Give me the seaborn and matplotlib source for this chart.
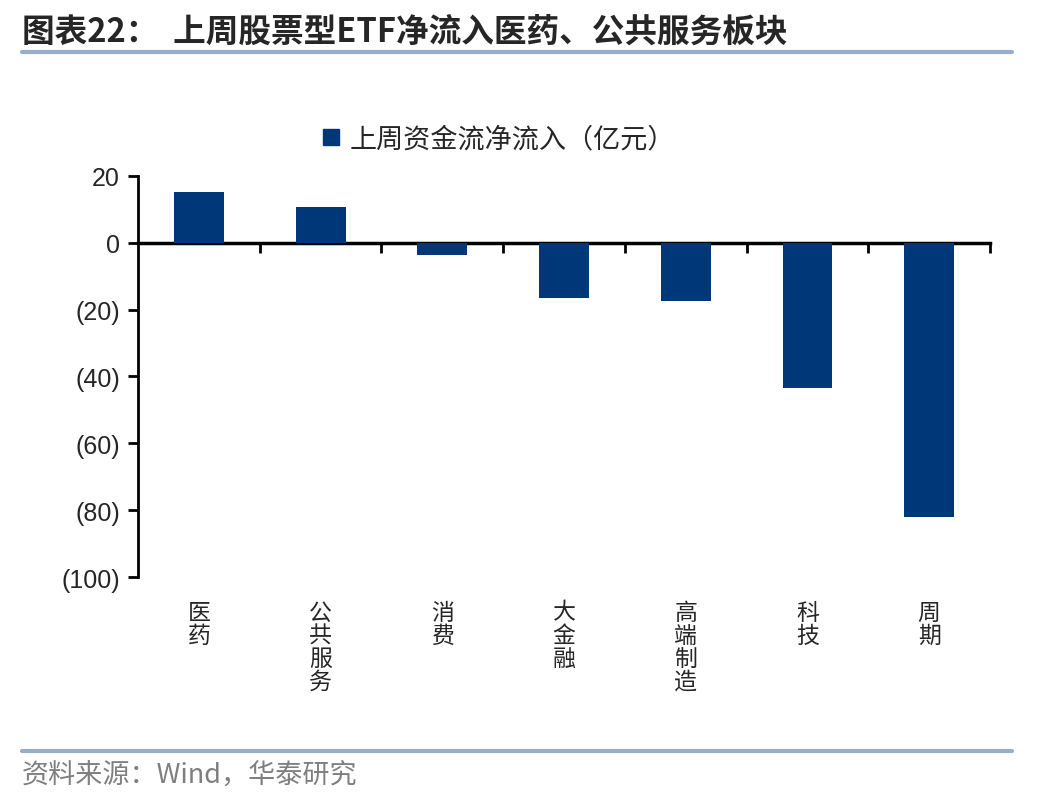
import numpy as np
import pandas as pd
import matplotlib
matplotlib.use("Agg")
import matplotlib.pyplot as plt
import seaborn as sns
from matplotlib.lines import Line2D

# data
categories = ["医药", "公共服务", "消费", "大金融", "高端制造", "科技", "周期"]
flows = [15.2, 10.6, -3.8, -16.4, -17.3, -43.4, -82.1]
yticks = [20, 0, -20, -40, -60, -80, -100]
series_name = "上周资金流净流入（亿元）"

sns.set_theme(style="white")
plt.rcParams["font.family"] = ["Noto Sans CJK SC", "DejaVu Sans"]

BAR = "#003778"
RULE = "#97AECA"

df = pd.DataFrame({"sector": categories, "flow": flows})

fig = plt.figure(figsize=(10.48, 8.04), dpi=100)
ax = fig.add_axes([0.1317, 0.281, 0.813, 0.499])

sns.barplot(data=df, x="sector", y="flow", color=BAR, width=0.41,
            saturation=1, linewidth=0, edgecolor=BAR, label=series_name, ax=ax)

ax.set_xlim(-0.5, len(categories) - 0.5)
ax.set_ylim(-100, 20)
ax.set_yticks(yticks)
ax.set_yticklabels([f"({-v})" if v < 0 else f"{v}" for v in yticks],
                   family=["Liberation Sans", "DejaVu Sans"], fontsize=18)
ax.tick_params(axis="y", direction="out", length=7, width=2, color="black", pad=6, left=True)

# vertical stacked category names at the bottom
ax.set_xticks(range(len(categories)))
ax.set_xticklabels(["\n".join(c) for c in categories], fontsize=16.5, va="top", linespacing=1.0)
ax.tick_params(axis="x", length=0, pad=17)
ax.set_xlabel("")
ax.set_ylabel("")

for s in ["top", "right", "bottom"]:
    ax.spines[s].set_visible(False)
ax.spines["left"].set_linewidth(2)
ax.spines["left"].set_color("black")

# zero line with boundary ticks
zero = ax.secondary_xaxis(0, transform=ax.transData)
zero.set_xticks(np.arange(0.5, len(categories), 1.0))
zero.set_xticklabels([])
zero.tick_params(direction="out", length=7, width=2, color="black")
zero.spines["bottom"].set_linewidth(2.5)
zero.spines["bottom"].set_color("black")

handle = Line2D([], [], marker="s", linestyle="none", markersize=12, color=BAR)
fig.legend([handle], [series_name], loc="center", bbox_to_anchor=(0.475, 0.826),
           frameon=False, fontsize=19.5, handletextpad=0.3, handlelength=0.8)
if ax.get_legend() is not None:
    ax.get_legend().remove()

# header and footer
fig.text(0.021, 0.96, "图表22：  上周股票型ETF净流入医药、公共服务板块",
         fontsize=23.5, fontweight="bold", va="center", ha="left")
fig.add_artist(Line2D([0.021, 0.966], [0.934, 0.934], color=RULE, lw=3))
fig.add_artist(Line2D([0.021, 0.966], [0.065, 0.065], color=RULE, lw=3))
fig.text(0.021, 0.034, "资料来源：Wind，华泰研究", fontsize=19.5, color="#7F7F7F",
         va="center", ha="left")

fig.savefig("out.png", dpi=100)
